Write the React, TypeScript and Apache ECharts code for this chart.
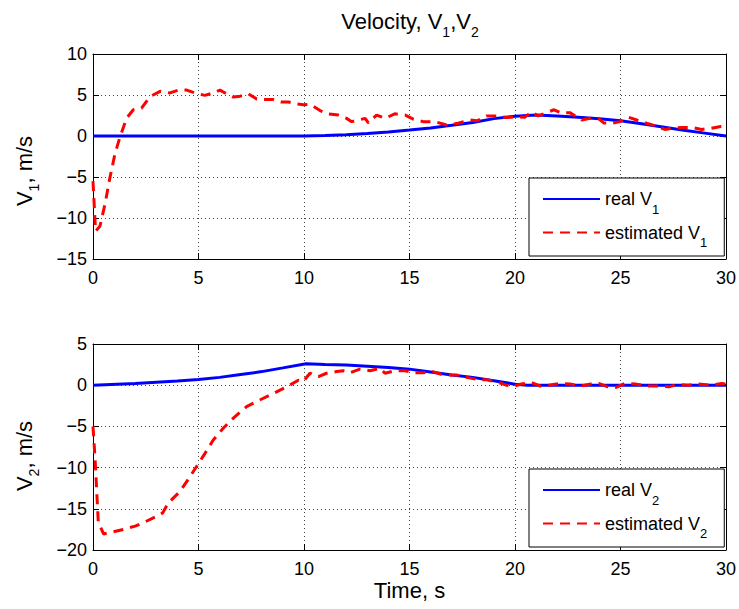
import React, { useEffect, useRef } from 'react';
import * as echarts from 'echarts';

// ---- data ----
const xTicks = [0, 5, 10, 15, 20, 25, 30];
const yTicksTop = [-15, -10, -5, 0, 5, 10];
const yTicksBottom = [-20, -15, -10, -5, 0, 5];

const tReal1 = [0, 10, 11, 12, 13, 14, 15, 16, 17, 18, 19, 20, 21, 22, 23, 24, 25, 26, 27, 28, 29, 30];
const vReal1 = [0, 0, 0.05, 0.15, 0.3, 0.5, 0.72, 0.98, 1.3, 1.65, 2.12, 2.42, 2.55, 2.45, 2.3, 2.1, 1.85, 1.5, 1.1, 0.7, 0.35, 0];

const tEst1 = [0, 0.12, 0.33, 0.57, 0.8, 1.04, 1.28, 1.6, 1.91, 2.3, 2.7, 3.18, 3.65, 4.12, 4.44, 4.83, 5.3, 5.7, 6.02, 6.26, 6.65, 6.97, 7.36, 7.76, 8.23, 8.55, 8.94, 9.26, 9.57, 9.97, 10.3, 10.76, 11.15, 11.63, 12.02, 12.26, 12.57, 12.9, 13.05, 13.44, 13.84, 14.3, 14.8, 15.18, 15.65, 16.2, 16.76, 17.3, 17.87, 18.2, 18.65, 19.13, 19.6, 20.08, 20.47, 20.79, 21.1, 21.5, 21.85, 22.2, 22.6, 23.16, 23.55, 23.95, 24.2, 24.58, 24.98, 25.37, 25.77, 26.24, 26.7, 27.1, 27.5, 27.95, 28.37, 28.85, 29.3, 29.75, 30];
const vEst1 = [-5.5, -11.6, -11.0, -8.3, -5.1, -2.2, -0.1, 2.2, 3.2, 3.4, 4.8, 5.45, 5.25, 5.65, 5.6, 5.25, 4.95, 5.25, 5.6, 5.25, 4.75, 4.85, 5.15, 4.5, 4.45, 4.45, 4.15, 4.15, 3.95, 3.8, 3.85, 3.1, 2.7, 2.55, 2.15, 1.75, 1.95, 2.15, 1.6, 2.55, 2.15, 2.7, 2.55, 2.05, 1.75, 1.75, 1.35, 1.55, 1.95, 1.85, 2.45, 2.45, 2.25, 2.35, 2.3, 2.95, 2.45, 2.85, 3.2, 2.8, 2.85, 1.95, 2.15, 2.15, 1.6, 1.55, 1.75, 2.3, 1.95, 1.55, 1.2, 0.8, 0.95, 1.05, 1.05, 0.8, 0.95, 1.15, 1.2];

const tReal2 = [0, 2, 4, 5, 6, 7, 8, 9, 10.1, 11, 12, 13, 14, 15, 16, 17, 18, 19, 20, 20.6, 30];
const vReal2 = [0, 0.2, 0.5, 0.7, 0.95, 1.3, 1.65, 2.1, 2.6, 2.5, 2.45, 2.3, 2.15, 1.95, 1.6, 1.25, 0.95, 0.55, 0.12, 0, 0];

const tEst2 = [0, 0.1, 0.25, 0.5, 0.96, 1.44, 2.0, 2.46, 3.02, 3.3, 3.57, 4.12, 4.52, 4.9, 5.3, 5.7, 6.18, 6.65, 7.28, 7.9, 8.55, 9.18, 9.73, 9.97, 10.28, 10.68, 11.07, 11.55, 11.86, 12.18, 12.65, 13.13, 13.6, 13.84, 14.3, 14.78, 15.24, 15.65, 16.1, 16.6, 17.2, 17.7, 18.2, 18.7, 19.3, 19.84, 20.3, 20.8, 21.2, 21.6, 22.1, 22.6, 23.1, 23.6, 24.0, 24.4, 24.8, 25.2, 25.7, 26.3, 26.8, 27.3, 27.7, 28.2, 28.7, 29.3, 29.8, 30];
const vEst2 = [-5, -9, -16.6, -18.05, -17.8, -17.5, -17.1, -16.6, -15.9, -15.5, -14.3, -12.9, -11.4, -9.9, -8.3, -6.65, -5.2, -4.0, -2.6, -1.8, -1.0, -0.2, 0.6, 0.45, 1.45, 1.05, 1.45, 1.65, 1.75, 1.5, 1.95, 1.75, 2.05, 1.45, 1.75, 1.75, 1.5, 1.5, 1.65, 1.25, 1.25, 0.95, 0.7, 0.65, 0.25, -0.2, 0.15, 0.3, -0.1, 0, 0.2, 0.15, -0.1, 0.15, 0.2, -0.2, -0.25, 0.2, 0.15, -0.1, -0.1, -0.2, 0.1, 0, 0.15, 0, 0.2, 0.15];

const names = ['real V1', 'estimated V1', 'real V2', 'estimated V2'];
const titleText = 'Velocity, V{s|1},V{s|2}';
const yLabel1 = 'V{s|1}, m/s';
const yLabel2 = 'V{s|2}, m/s';
const xLabel = 'Time, s';

const FONT = '"Liberation Sans", Arial, Helvetica, sans-serif';

const zip = (t: number[], v: number[]) => t.map((x, i) => [x, v[i]]);
const minus = (v: number) => String(v).replace('-', '\u2212');

export default function App() {
  const ref = useRef<HTMLDivElement>(null);
  useEffect(() => {
    const chart = echarts.init(ref.current!, null, { renderer: 'svg' });

    const grids = [
      { left: 93, top: 54, width: 633, height: 205 },
      { left: 93, top: 344, width: 633, height: 206 },
    ];
    const yRanges = [
      [yTicksTop[0], yTicksTop[yTicksTop.length - 1]],
      [yTicksBottom[0], yTicksBottom[yTicksBottom.length - 1]],
    ];

    const lineCol = { color: '#000', width: 1 };
    const dotted = { show: true, lineStyle: { color: '#444', width: 1, type: [1, 3] } };

    const xAxis: any[] = [];
    const yAxis: any[] = [];
    [0, 1].forEach((g) => {
      xAxis.push({
        type: 'value', gridIndex: g, position: 'bottom',
        min: xTicks[0], max: xTicks[xTicks.length - 1], interval: 5,
        axisLine: { show: true, onZero: false, lineStyle: lineCol },
        axisTick: { show: true, inside: true, length: 6, lineStyle: lineCol },
        axisLabel: { color: '#000', fontSize: 18, fontFamily: FONT, margin: 10, formatter: minus },
        splitLine: dotted,
        name: g === 1 ? xLabel : '',
        nameLocation: 'middle', nameGap: 29,
        nameTextStyle: { color: '#000', fontSize: 22, fontFamily: FONT },
      });
      yAxis.push({
        type: 'value', gridIndex: g, position: 'left',
        min: yRanges[g][0], max: yRanges[g][1], interval: 5,
        axisLine: { show: true, onZero: false, lineStyle: lineCol },
        axisTick: { show: true, inside: true, length: 6, lineStyle: lineCol },
        axisLabel: { color: '#000', fontSize: 18, fontFamily: FONT, margin: 6, formatter: minus },
        splitLine: dotted,
      });
    });
    [0, 1].forEach((g) => {
      xAxis.push({
        type: 'value', gridIndex: g, position: 'top',
        min: xTicks[0], max: xTicks[xTicks.length - 1], interval: 5,
        axisLine: { show: true, onZero: false, lineStyle: lineCol },
        axisTick: { show: true, inside: true, length: 6, lineStyle: lineCol },
        axisLabel: { show: false }, splitLine: { show: false },
      });
      yAxis.push({
        type: 'value', gridIndex: g, position: 'right',
        min: yRanges[g][0], max: yRanges[g][1], interval: 5,
        axisLine: { show: true, onZero: false, lineStyle: lineCol },
        axisTick: { show: true, inside: true, length: 6, lineStyle: lineCol },
        axisLabel: { show: false }, splitLine: { show: false },
      });
    });

    const mk = (name: string, data: number[][], g: number, color: string, dashed: boolean) => ({
      type: 'line', name, data, xAxisIndex: g, yAxisIndex: g,
      symbol: 'none', showSymbol: false, smooth: false,
      lineStyle: { color, width: 3, type: dashed ? [10, 7] : 'solid' },
      itemStyle: { color },
      z: dashed ? 3 : 2,
    });

    const subRich = {
      s: { fontSize: 13, fontFamily: FONT, color: '#000', padding: [20, 0, 0, 0] },
    };

    const legendBase = (top: number, data: string[]) => ({
      left: 529, top, orient: 'vertical', data,
      itemWidth: 57, itemHeight: 14, itemGap: 8,
      padding: [12, 17, 7, 13],
      itemStyle: { opacity: 0 },
      backgroundColor: '#fff', borderColor: '#000', borderWidth: 1, borderRadius: 0,
      textStyle: { fontSize: 18, fontFamily: FONT, color: '#000', rich: subRich },
      formatter: (n: string) => n.replace(/V(\d)$/, 'V{s|$1}'),
      selectedMode: false,
    });

    const textRich = (sub: number, pad: number) => ({
      s: { fontSize: sub, fontFamily: FONT, fill: '#000', padding: [pad, 0, 0, 0] },
    });

    const option: any = {
      animation: false,
      backgroundColor: '#fff',
      textStyle: { fontFamily: FONT },
      grid: grids,
      xAxis, yAxis,
      legend: [legendBase(178, [names[0], names[1]]), legendBase(469, [names[2], names[3]])],
      series: [
        mk(names[0], zip(tReal1, vReal1), 0, '#0000ff', false),
        mk(names[1], zip(tEst1, vEst1), 0, '#ff0000', true),
        mk(names[2], zip(tReal2, vReal2), 1, '#0000ff', false),
        mk(names[3], zip(tEst2, vEst2), 1, '#ff0000', true),
      ],
      graphic: [
        {
          type: 'text', x: 410, y: 21,
          style: {
            text: titleText, fontSize: 22, fontFamily: FONT, fill: '#000',
            align: 'center', verticalAlign: 'middle', rich: textRich(14, 22),
          },
        },
        {
          type: 'text', x: 24, y: 171, rotation: Math.PI / 2,
          style: {
            text: yLabel1, fontSize: 22, fontFamily: FONT, fill: '#000',
            align: 'center', verticalAlign: 'middle', rich: textRich(14, 20),
          },
        },
        {
          type: 'text', x: 24, y: 456, rotation: Math.PI / 2,
          style: {
            text: yLabel2, fontSize: 22, fontFamily: FONT, fill: '#000',
            align: 'center', verticalAlign: 'middle', rich: textRich(14, 20),
          },
        },
      ],
    };
    chart.setOption(option);
    return () => chart.dispose();
  }, []);
  return <div ref={ref} style={{ position: 'fixed', left: 0, top: 0, width: 739, height: 609 }} />;
}
